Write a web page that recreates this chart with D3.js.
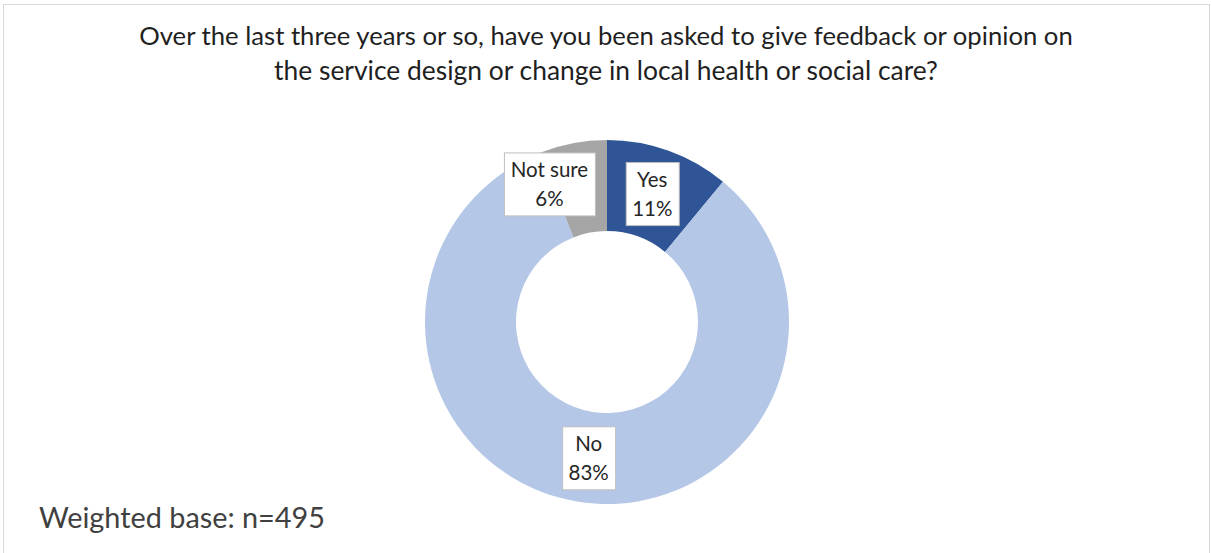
<!DOCTYPE html>
<html>
<head>
<meta charset="utf-8">
<script src="https://cdn.jsdelivr.net/npm/d3@7"></script>
<style>
  html, body { margin: 0; padding: 0; background: #fff; }
  svg { display: block; }
  text { font-family: Lato, "Open Sans", "Noto Sans", sans-serif; }
</style>
</head>
<body>
<svg id="chart" width="1211" height="553"></svg>
<script>
// Survey answers
const categories = ["Yes", "No", "Not sure"];
const shares = [11, 83, 6];
const colors = ["#2F5597", "#B4C7E7", "#A5A5A5"];
const titleLines = [
  "Over the last three years or so, have you been asked to give feedback or opinion on",
  "the service design or change in local health or social care?"
];
const footnote = "Weighted base: n=495";

const W = 1211, H = 553;
const cx = 607, cy = 322, rOuter = 182, rInner = 91;

const svg = d3.select("#chart");

// Chart area outline
svg.append("rect")
  .attr("x", 3.5).attr("y", 4.5)
  .attr("width", 1206).attr("height", 560)
  .attr("fill", "#fff").attr("stroke", "#d9d9d9").attr("stroke-width", 1);

// Shrink/stretch a text's font size so it spans a given width
function fitText(sel, targetWidth, baseSize) {
  sel.attr("font-size", baseSize);
  const w = sel.node().getComputedTextLength();
  sel.attr("font-size", baseSize * targetWidth / w);
}

// Title
const titleWidths = [934, 664];
const titleY = [45, 80];
titleLines.forEach((line, i) => {
  const t = svg.append("text")
    .attr("x", 606).attr("y", titleY[i])
    .attr("text-anchor", "middle")
    .attr("fill", "#1f1f1f")
    .text(line);
  fitText(t, titleWidths[i], 22);
});

// Donut
const pie = d3.pie().sort(null).value(d => d.value).startAngle(0).endAngle(2 * Math.PI);
const data = categories.map((c, i) => ({ name: c, value: shares[i], color: colors[i] }));
const arcs = pie(data);
const arc = d3.arc().innerRadius(rInner).outerRadius(rOuter);

const g = svg.append("g").attr("transform", `translate(${cx},${cy})`);
g.selectAll("path.slice")
  .data(arcs)
  .join("path")
  .attr("class", "slice")
  .attr("d", arc)
  .attr("fill", d => d.data.color);

// Data labels: boxed category name and percentage at the slice centroid
const labelShift = { "Yes": [-1, 0], "No": [3, 1], "Not sure": [-32, -4] };
const lineGap = 29;
const labelSize = 20.5;
arcs.forEach(d => {
  const [x0, y0] = arc.centroid(d);
  const [dx, dy] = labelShift[d.data.name];
  const lg = g.append("g").attr("transform", `translate(${x0 + dx},${y0 + dy})`);
  const box = lg.append("rect").attr("fill", "#fff").attr("stroke", "#bfbfbf").attr("stroke-width", 1);
  const t1 = lg.append("text").attr("text-anchor", "middle").attr("y", -lineGap / 2 + 8)
    .attr("font-size", labelSize).attr("fill", "#262626").text(d.data.name);
  const t2 = lg.append("text").attr("text-anchor", "middle").attr("y", lineGap / 2 + 8)
    .attr("font-size", labelSize).attr("fill", "#262626").text(d.data.value + "%");
  const w = Math.max(t1.node().getComputedTextLength(), t2.node().getComputedTextLength());
  const bw = Math.round(w + 13), bh = 63;
  box.attr("x", -bw / 2 + 0.5).attr("y", -bh / 2 + 0.5).attr("width", bw).attr("height", bh);
});

// Footnote
const fn = svg.append("text")
  .attr("x", 39).attr("y", 528)
  .attr("fill", "#404040")
  .text(footnote);
fitText(fn, 286, 26);
</script>
</body>
</html>
